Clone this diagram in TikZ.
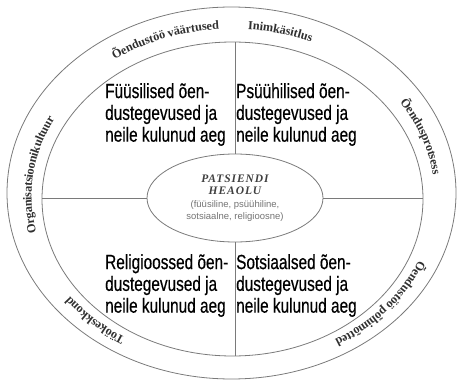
\documentclass[tikz,border=0pt]{standalone}
\usepackage{fontspec}
\setmainfont{Liberation Serif}
\newfontfamily\quadfont[FakeStretch=0.75,FakeBold=0.4]{Liberation Sans}
\newfontfamily\notefont{Liberation Sans}
\newfontfamily\titlefont[LetterSpace=8]{Liberation Serif}
\usetikzlibrary{shapes.geometric,decorations.text}
\definecolor{linegray}{HTML}{7A7A7A}
\definecolor{titlegray}{HTML}{404040}
\definecolor{notegray}{HTML}{747474}
\definecolor{ringink}{HTML}{303030}
\newcommand{\ringfont}{\fontsize{12.3}{14}\selectfont\bfseries\color{ringink}}
% label on the ring, clockwise from angle #1 to angle #2
\newcommand{\ringlabel}[4][-4.5pt]{%
  \path[decorate,decoration={text along path,text={|\ringfont|#4},
    text align=center,raise=#1}]
    (232,185) ++(#2:207 and 171.5)
    arc[start angle=#2,end angle=#3,x radius=207,y radius=171.5];}
\begin{document}
\begin{tikzpicture}[
x=1pt,y=1pt,
oval/.style={ellipse,draw=linegray,line width=0.8pt,inner sep=0pt},
quad/.style={anchor=north west,align=left,inner sep=0pt,
  font=\quadfont\fontsize{20.5}{21.8}\selectfont},
divider/.style={draw=linegray,line width=0.8pt}
]
\useasboundingbox (0,0) rectangle (458,381);
\node[oval,minimum width=449,minimum height=372] (outer) at (231.5,188) {};
\node[oval,minimum width=381,minimum height=314] (inner) at (232.5,182) {};
\node[oval,minimum width=176,minimum height=88,align=center,
  font=\fontsize{11.5}{12.5}\selectfont] (heaolu) at (235,183)
  {{\titlefont\bfseries\itshape\color{titlegray}PATSIENDI}\\
   {\titlefont\bfseries\itshape\color{titlegray}HEAOLU}\\
   {\notefont\fontsize{9.5}{12}\selectfont\color{notegray}(füüsiline, psüühiline,}\\
   {\notefont\fontsize{9.5}{12}\selectfont\color{notegray}sotsiaalne, religioosne)}};

% dividers
\draw[divider] (heaolu.north) -- (heaolu.north |- inner.north);
\draw[divider] (heaolu.south) -- (heaolu.south |- inner.south);
\draw[divider] (heaolu.west) -- (heaolu.west -| inner.west);
\draw[divider] (heaolu.east) -- (heaolu.east -| inner.east);

% quadrants
\node[quad] (fyysilised) at (105,298) {Füüsilised õen-\\dustegevused ja\\neile kulunud aeg};
\node[quad] (psyyhilised) at (236,298) {Psüühilised õen-\\dustegevused ja\\neile kulunud aeg};
\node[quad] (religioossed) at (105,127) {Religioossed õen-\\dustegevused ja\\neile kulunud aeg};
\node[quad] (sotsiaalsed) at (236,127) {Sotsiaalsed õen-\\dustegevused ja\\neile kulunud aeg};

% ring labels
\ringlabel{140}{80}{Õendustöö väärtused}
\ringlabel{100}{52}{Inimkäsitlus}
\ringlabel{50}{-10}{Õendusprotsess}
\ringlabel{-5}{-75}{Õendustöö põhimõtted}
\ringlabel{-110}{-156}{Töökeskkond}
\ringlabel[-6.5pt]{217}{129}{Organisatsioonikultuur}
\end{tikzpicture}
\end{document}
